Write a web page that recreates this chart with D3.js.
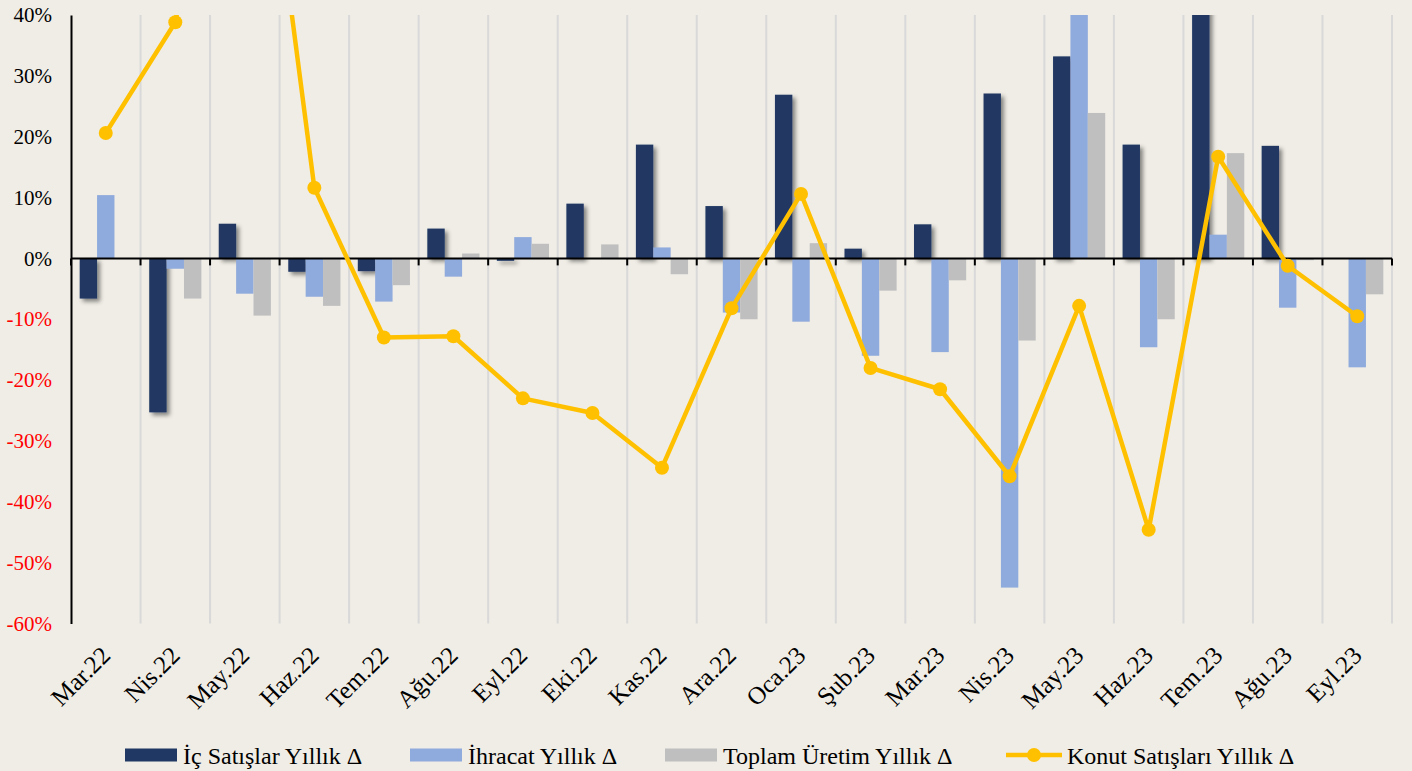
<!doctype html>
<html>
<head>
<meta charset="utf-8">
<title>Yıllık Değişim</title>
<script src="https://d3js.org/d3.v7.min.js"></script>
<style>
    body { margin: 0; background: #F0EDE6; }
    svg { display: block; }
    text { font-family: "Liberation Serif", "Times New Roman", serif; }
</style>
</head>
<body>
<svg id="chart" width="1412" height="771"></svg>
<script>

    // kategoriler (aylar)
    var months = ['Mar.22', 'Nis.22', 'May.22', 'Haz.22', 'Tem.22', 'Ağu.22', 'Eyl.22', 'Eki.22', 'Kas.22', 'Ara.22',
                  'Oca.23', 'Şub.23', 'Mar.23', 'Nis.23', 'May.23', 'Haz.23', 'Tem.23', 'Ağu.23', 'Eyl.23'];

    // seriler, yıllık % değişim
    var icSatis    = [-6.6, -25.3, 5.7, -2.2, -2.1, 4.9, -0.4, 9.0, 18.7, 8.6, 26.9, 1.6, 5.6, 27.1, 33.2, 18.7, 47.0, 18.5, 0];
    var ihracat    = [10.4, -1.7, -5.8, -6.3, -7.1, -3.0, 3.5, 0, 1.8, -8.9, -10.4, -16.0, -15.4, -54.1, 45.0, -14.6, 3.9, -8.1, -17.9];
    var toplamUret = [0, -6.6, -9.4, -7.8, -4.4, 0.8, 2.4, 2.3, -2.6, -10.0, 2.5, -5.3, -3.6, -13.5, 23.9, -10.0, 17.3, -0.3, -5.9];
    var konut      = [20.6, 38.8, 99.5, 11.6, -13.0, -12.8, -23.0, -25.4, -34.4, -8.2, 10.6, -18.0, -21.5, -35.8, -7.8, -44.6, 16.7, -1.2, -9.5];

    var yTicks = [-60, -50, -40, -30, -20, -10, 0, 10, 20, 30, 40];

    var seriesNames = ['İç Satışlar Yıllık Δ', 'İhracat Yıllık Δ', 'Toplam Üretim Yıllık Δ', 'Konut Satışları Yıllık Δ'];
    var barColors = ['#203864', '#8FAADC', '#BFBFBF'];
    var lineColor = '#FFC000';

    var svg = d3.select('#chart');
    var pLeft = 71, pRight = 1392, pTop = 15, pBottom = 623.5;

    svg.append('rect').attr('width', 1412).attr('height', 771).attr('fill', '#F0EDE6');

    var defs = svg.append('defs');
    defs.append('clipPath').attr('id', 'plot-clip')
        .append('rect').attr('x', pLeft).attr('y', pTop).attr('width', pRight - pLeft).attr('height', pBottom - pTop);
    defs.append('filter').attr('id', 'shadow').attr('x', '-50%').attr('y', '-10%').attr('width', '200%').attr('height', '130%')
        .append('feDropShadow')
        .attr('dx', 3).attr('dy', 3).attr('stdDeviation', 2)
        .attr('flood-color', '#000').attr('flood-opacity', 0.45);

    var x = d3.scaleBand().domain(months).range([pLeft, pRight]);
    var x1 = d3.scaleBand().domain([0, 1, 2]).range([0, x.bandwidth()]).paddingOuter(0.5);
    var y = d3.scaleLinear().domain([-60, 40]).range([pBottom, pTop]);

    // dikey ızgara çizgileri
    var edges = months.map(function(m){ return x(m); }).concat([pRight]);
    svg.append('g').selectAll('line').data(edges.slice(1)).enter().append('line')
        .attr('x1', function(d){ return d; }).attr('x2', function(d){ return d; })
        .attr('y1', pTop).attr('y2', pBottom)
        .attr('stroke', '#D9D9D9').attr('stroke-width', 2);

    // barlar
    var barData = [icSatis, ihracat, toplamUret];
    var plot = svg.append('g').attr('clip-path', 'url(#plot-clip)');
    barData.forEach(function(values, s){
        plot.append('g')
            .attr('filter', s === 0 ? 'url(#shadow)' : null)
            .selectAll('rect').data(values).enter().append('rect')
            .attr('x', function(d, i){ return x(months[i]) + x1(s); })
            .attr('width', x1.bandwidth())
            .attr('y', function(d){ return y(Math.max(d, 0)); })
            .attr('height', function(d){ return Math.abs(y(d) - y(0)); })
            .attr('fill', barColors[s]);
    });

    // y ekseni
    var yAxis = svg.append('g').attr('transform', 'translate(' + pLeft + ',0)')
        .call(d3.axisLeft(y).tickValues(yTicks).tickFormat(function(d){ return d + '%'; }).tickSize(0).tickPadding(19));
    yAxis.select('.domain').attr('stroke', '#000').attr('stroke-width', 2);
    yAxis.selectAll('text')
        .attr('font-family', '"Liberation Serif", serif')
        .attr('font-size', 21)
        .attr('fill', function(d){ return d < 0 ? '#FF0000' : '#000'; });

    // sıfır çizgisi ve tikler
    var zero = svg.append('g');
    zero.append('line').attr('x1', pLeft).attr('x2', pRight).attr('y1', y(0)).attr('y2', y(0))
        .attr('stroke', '#000').attr('stroke-width', 2);
    zero.selectAll('.tick').data(edges).enter().append('line')
        .attr('x1', function(d){ return d; }).attr('x2', function(d){ return d; })
        .attr('y1', y(0)).attr('y2', y(0) + 7)
        .attr('stroke', '#000').attr('stroke-width', 2);

    // konut çizgisi
    var line = d3.line()
        .x(function(d, i){ return x(months[i]) + x.bandwidth() / 2; })
        .y(function(d){ return y(d); });
    var konutG = svg.append('g').attr('clip-path', 'url(#plot-clip)');
    konutG.append('path').datum(konut)
        .attr('d', line)
        .attr('fill', 'none')
        .attr('stroke', lineColor)
        .attr('stroke-width', 4.5)
        .attr('stroke-linejoin', 'round');
    konutG.selectAll('circle').data(konut).enter().append('circle')
        .attr('cx', function(d, i){ return x(months[i]) + x.bandwidth() / 2; })
        .attr('cy', function(d){ return y(d); })
        .attr('r', 7)
        .attr('fill', lineColor);

    // x etiketleri
    svg.append('g').selectAll('text').data(months).enter().append('text')
        .attr('transform', function(d){ return 'translate(' + (x(d) + x.bandwidth() / 2 + 6) + ',657) rotate(-45)'; })
        .attr('text-anchor', 'end')
        .attr('font-size', 25)
        .attr('fill', '#000')
        .text(function(d){ return d; });

    // lejant
    var legendX = [125, 410, 665, 1006];
    var legend = svg.append('g');
    seriesNames.forEach(function(name, i){
        var g = legend.append('g').attr('transform', 'translate(' + legendX[i] + ',755)');
        if(i < 3){
            g.append('rect').attr('x', 0).attr('y', -6.5).attr('width', 52).attr('height', 13).attr('fill', barColors[i]);
        } else {
            g.append('line').attr('x1', 0).attr('x2', 56).attr('y1', 0).attr('y2', 0)
                .attr('stroke', lineColor).attr('stroke-width', 4.5);
            g.append('circle').attr('cx', 28).attr('cy', 0).attr('r', 7).attr('fill', lineColor);
        }
        g.append('text').attr('x', i < 3 ? 58 : 61).attr('y', 8.5)
            .attr('font-size', 24).attr('fill', '#000')
            .text(name);
    });

</script>
</body>
</html>
